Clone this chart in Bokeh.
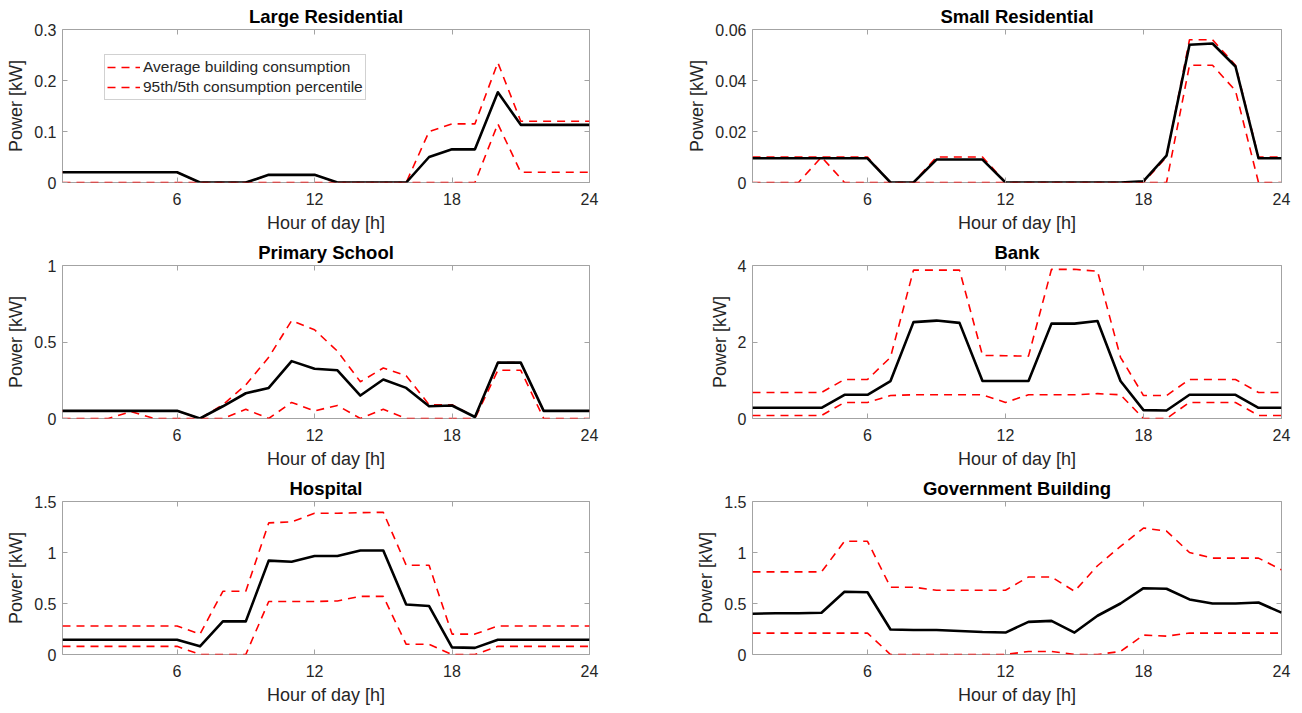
from bokeh.plotting import figure
from bokeh.layouts import gridplot
from bokeh.models import Range1d, FixedTicker, CustomJSTickFormatter, LinearAxis, Legend, LegendItem
from bokeh.embed import file_html
from bokeh.resources import INLINE

hours = list(range(1, 25))
x_ticks = [6, 12, 18, 24]

titles = ["Large Residential", "Small Residential", "Primary School", "Bank",
          "Hospital", "Government Building"]

lr_mean = [0.02, 0.02, 0.02, 0.02, 0.02, 0.02, 0, 0, 0, 0.015, 0.015, 0.015,
           0, 0, 0, 0, 0.05, 0.065, 0.065, 0.177, 0.113, 0.113, 0.113, 0.113]
lr_upper = [0.02, 0.02, 0.02, 0.02, 0.02, 0.02, 0, 0, 0, 0.015, 0.015, 0.015,
            0, 0, 0, 0, 0.1, 0.115, 0.115, 0.235, 0.12, 0.12, 0.12, 0.12]
lr_lower = [0, 0, 0, 0, 0, 0, 0, 0, 0, 0, 0, 0,
            0, 0, 0, 0, 0, 0, 0, 0.115, 0.02, 0.02, 0.02, 0.02]

sr_mean = [0.0095, 0.0095, 0.0095, 0.0095, 0.0095, 0.0095, 0, 0, 0.009, 0.009, 0.009, 0,
           0, 0, 0, 0, 0, 0.0005, 0.0105, 0.054, 0.0545, 0.0455, 0.0095, 0.0095]
sr_upper = [0.01, 0.01, 0.01, 0.01, 0.01, 0.01, 0, 0, 0.01, 0.01, 0.01, 0,
            0, 0, 0, 0, 0, 0, 0.01, 0.056, 0.056, 0.046, 0.01, 0.01]
sr_lower = [0, 0, 0, 0.01, 0, 0, 0, 0, 0, 0, 0, 0,
            0, 0, 0, 0, 0, 0, 0, 0.046, 0.046, 0.036, 0, 0]

ps_mean = [0.05, 0.05, 0.05, 0.05, 0.05, 0.05, 0, 0.08, 0.165, 0.2, 0.375, 0.325,
           0.315, 0.15, 0.255, 0.2, 0.08, 0.085, 0.01, 0.365, 0.365, 0.05, 0.05, 0.05]
ps_upper = [0.05, 0.05, 0.05, 0.05, 0.05, 0.05, 0, 0.09, 0.22, 0.4, 0.64, 0.58,
            0.44, 0.24, 0.33, 0.28, 0.09, 0.09, 0.01, 0.365, 0.365, 0.05, 0.05, 0.05]
ps_lower = [0, 0, 0, 0.045, 0, 0, 0, 0, 0.06, 0, 0.105, 0.05,
            0.085, 0, 0.06, 0, 0, 0, 0, 0.315, 0.315, 0, 0, 0]

bk_mean = [0.28, 0.28, 0.28, 0.28, 0.62, 0.62, 0.98, 2.52, 2.56, 2.5, 0.98, 0.98,
           0.98, 2.48, 2.48, 2.55, 0.98, 0.22, 0.21, 0.62, 0.62, 0.62, 0.28, 0.28]
bk_upper = [0.68, 0.68, 0.68, 0.68, 1.02, 1.02, 1.6, 3.88, 3.88, 3.88, 1.65, 1.64,
            1.63, 3.9, 3.9, 3.85, 1.6, 0.6, 0.6, 1.02, 1.02, 1.02, 0.68, 0.68]
bk_lower = [0.08, 0.08, 0.08, 0.08, 0.42, 0.42, 0.6, 0.62, 0.62, 0.62, 0.62, 0.42,
            0.62, 0.62, 0.62, 0.65, 0.62, 0, 0, 0.42, 0.42, 0.42, 0.08, 0.08]

ho_mean = [0.145, 0.145, 0.145, 0.145, 0.145, 0.145, 0.08, 0.325, 0.325, 0.92, 0.91, 0.965,
           0.965, 1.02, 1.02, 0.49, 0.475, 0.07, 0.065, 0.145, 0.145, 0.145, 0.145, 0.145]
ho_upper = [0.28, 0.28, 0.28, 0.28, 0.28, 0.28, 0.2, 0.62, 0.62, 1.29, 1.3, 1.385,
            1.385, 1.39, 1.395, 0.875, 0.875, 0.2, 0.2, 0.28, 0.28, 0.28, 0.28, 0.28]
ho_lower = [0.08, 0.08, 0.08, 0.08, 0.08, 0.08, 0, 0, 0, 0.52, 0.52, 0.52,
            0.525, 0.57, 0.57, 0.1, 0.1, 0, 0, 0.08, 0.08, 0.08, 0.08, 0.08]

gv_mean = [0.4, 0.405, 0.405, 0.41, 0.615, 0.61, 0.245, 0.24, 0.24, 0.23, 0.22, 0.215,
           0.32, 0.33, 0.215, 0.38, 0.5, 0.65, 0.645, 0.54, 0.5, 0.5, 0.51, 0.41]
gv_upper = [0.81, 0.81, 0.81, 0.81, 1.11, 1.11, 0.66, 0.66, 0.63, 0.63, 0.63, 0.63,
            0.76, 0.76, 0.62, 0.87, 1.06, 1.24, 1.21, 1.0, 0.945, 0.945, 0.945, 0.83]
gv_lower = [0.21, 0.21, 0.21, 0.21, 0.21, 0.21, 0, 0, 0, 0, 0, 0,
            0.03, 0.03, 0, 0, 0.03, 0.19, 0.18, 0.21, 0.21, 0.21, 0.21, 0.21]

y_max = [0.3, 0.06, 1, 4, 1.5, 1.5]
y_ticks = [[0, 0.1, 0.2, 0.3], [0, 0.02, 0.04, 0.06], [0, 0.5, 1], [0, 2, 4],
           [0, 0.5, 1, 1.5], [0, 0.5, 1, 1.5]]

legend_labels = ["Average building consumption", "95th/5th consumption percentile"]

series = [(lr_mean, lr_upper, lr_lower), (sr_mean, sr_upper, sr_lower),
          (ps_mean, ps_upper, ps_lower), (bk_mean, bk_upper, bk_lower),
          (ho_mean, ho_upper, ho_lower), (gv_mean, gv_upper, gv_lower)]

FONT = "Liberation Sans"
BOX = "#a3a3a3"
TXT = "#262626"
fmt_code = "return String(tick);"


def tick_only_axis(ticks):
    ax = LinearAxis(ticker=FixedTicker(ticks=ticks), major_label_text_font_size="1px",
                    major_label_text_color=None, major_label_text_alpha=0,
                    major_label_standoff=0, axis_line_color=None, major_tick_in=5,
                    major_tick_out=0, minor_tick_line_color=None,
                    major_tick_line_color=BOX)
    return ax


def make(i):
    col = i % 2
    mean, upper, lower = series[i]
    w = 680 if col == 0 else 616
    h = 236
    p = figure(width=w, height=h, x_range=Range1d(1, 24), y_range=Range1d(0, y_max[i]),
               output_backend="svg", toolbar_location=None, tools="",
               min_border_left=62 if col == 0 else 72,
               min_border_right=91 if col == 0 else 15,
               min_border_top=29, min_border_bottom=54)
    p.title.text = titles[i]
    p.title.align = "center"
    p.title.text_font = FONT
    p.title.text_font_style = "bold"
    p.title.text_font_size = "18.5px"
    p.title.text_color = "black"
    p.title.standoff = 6
    p.xgrid.visible = False
    p.ygrid.visible = False
    p.outline_line_color = BOX
    p.outline_line_width = 1
    p.outline_line_alpha = 1
    p.background_fill_color = "white"
    p.border_fill_color = "white"

    xa = p.xaxis[0]
    xa.ticker = FixedTicker(ticks=x_ticks)
    xa.axis_label = "Hour of day [h]"
    ya = p.yaxis[0]
    ya.ticker = FixedTicker(ticks=y_ticks[i])
    ya.formatter = CustomJSTickFormatter(code=fmt_code)
    ya.axis_label = "Power [kW]"
    for ax in (xa, ya):
        ax.axis_line_color = None
        ax.major_tick_in = 5
        ax.major_tick_out = 0
        ax.major_tick_line_color = BOX
        ax.minor_tick_line_color = None
        ax.major_label_text_font = FONT
        ax.major_label_text_font_size = "16px"
        ax.major_label_text_color = TXT
        ax.axis_label_text_font = FONT
        ax.axis_label_text_font_size = "18px"
        ax.axis_label_text_font_style = "normal"
        ax.axis_label_text_color = TXT
        ax.axis_label_standoff = 5
    xa.major_label_standoff = 10
    ya.major_label_standoff = 6

    p.add_layout(tick_only_axis(x_ticks), "above")
    p.add_layout(tick_only_axis(y_ticks[i]), "right")

    r_up = p.line(hours, upper, line_color="red", line_width=1.6, line_dash="8 6")
    r_lo = p.line(hours, lower, line_color="red", line_width=1.6, line_dash="8 6")
    p.line(hours, mean, line_color="black", line_width=2.6, line_join="round")

    if i == 0:
        leg = Legend(items=[LegendItem(label=legend_labels[0], renderers=[r_up]),
                            LegendItem(label=legend_labels[1], renderers=[r_lo])],
                     location=(42, 82), margin=0, padding=2, spacing=0,
                     glyph_width=33, glyph_height=20, label_height=20,
                     label_width=214, label_standoff=3,
                     label_text_font=FONT, label_text_font_size="15.5px",
                     label_text_color=TXT, border_line_color=BOX,
                     border_line_width=1, background_fill_color="white",
                     background_fill_alpha=1)
        p.add_layout(leg)
    return p


plots = [make(i) for i in range(6)]
grid = gridplot([[plots[0], plots[1]], [plots[2], plots[3]], [plots[4], plots[5]]],
                toolbar_location=None)

open("out.html", "w").write(file_html(grid, INLINE))
